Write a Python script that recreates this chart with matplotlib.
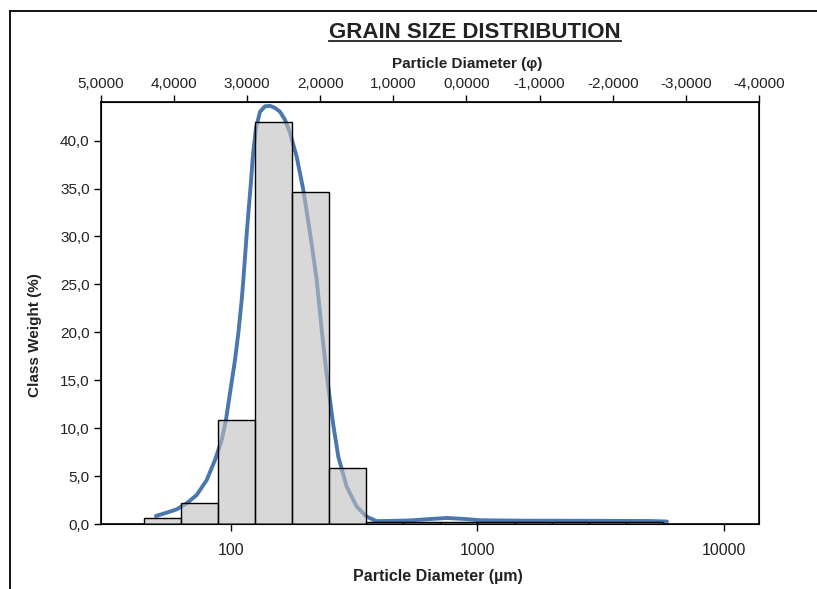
import numpy as np
import matplotlib
matplotlib.use("Agg")
import matplotlib.pyplot as plt
from matplotlib.lines import Line2D
from matplotlib.ticker import FixedLocator, FixedFormatter, NullLocator

plt.rcParams['font.family'] = ['Liberation Sans', 'DejaVu Sans']

# ---------------- data ----------------
bin_edges_um = [44.19, 62.5, 88.39, 125.0, 176.8, 250.0, 353.6, 500.0, 707.1,
                1000.0, 1414.2, 2000.0, 2828.4, 4000.0, 5656.9]
class_weight = [0.6, 2.2, 10.8, 41.9, 34.6, 5.8, 0.2, 0.2, 0.2, 0.2, 0.2, 0.2, 0.2, 0.2]

curve_um = [49.6, 54.8, 60.2, 66.1, 72.6, 79.7, 86.1, 91.7, 95.4, 99.1, 103.8, 107.1,
            110.5, 112.2, 116.1, 120.2, 122.8, 126.3, 131.1, 137.4, 143.9, 150.8,
            158.1, 165.6, 173.5, 184.7, 196.5, 209.2, 222.7, 233.3, 244.5, 252.1,
            260.0, 272.4, 294.7, 323.6, 355.2, 390.0, 441.7, 532.3, 641.9, 752.0,
            889.7, 1023.6, 1487.0, 3141.0, 5010.0, 5870.0]
curve_pct = [0.84, 1.18, 1.53, 2.16, 3.03, 4.59, 6.68, 8.77, 10.86, 13.7, 17.12, 19.94,
             23.38, 25.47, 30.69, 35.39, 38.52, 41.34, 43.01, 43.58, 43.63, 43.42,
             43.01, 42.17, 40.81, 38.31, 34.86, 30.38, 25.47, 20.25, 15.55, 12.94,
             10.33, 7.03, 3.89, 1.81, 0.76, 0.30, 0.32, 0.37, 0.52, 0.63,
             0.52, 0.39, 0.35, 0.33, 0.31, 0.26]

y_ticks = [0, 5, 10, 15, 20, 25, 30, 35, 40]
y_tick_labels = ["0,0", "5,0", "10,0", "15,0", "20,0", "25,0", "30,0", "35,0", "40,0"]
x_ticks = [100, 1000, 10000]
x_tick_labels = ["100", "1000", "10000"]
phi_ticks = [5, 4, 3, 2, 1, 0, -1, -2, -3, -4]
phi_tick_labels = ["5,0000", "4,0000", "3,0000", "2,0000", "1,0000", "0,0000",
                   "-1,0000", "-2,0000", "-3,0000", "-4,0000"]

# ---------------- figure ----------------
W, H = 817, 589
fig = plt.figure(figsize=(W / 100, H / 100), dpi=100)
fig.patch.set_facecolor("white")

left, right, top, bottom = 100.7, 759, 102.3, 524
ax = fig.add_axes([left / W, 1 - bottom / H, (right - left) / W, (bottom - top) / H])

edges = np.array(bin_edges_um)
ax.plot(curve_um, curve_pct, color="#4a78ae", lw=2.8, solid_capstyle="round",
        solid_joinstyle="round", zorder=2)
ax.bar(edges[:-1], class_weight, width=np.diff(edges), align="edge",
       color=(0.75, 0.75, 0.75, 0.6), edgecolor="black", linewidth=1.0, zorder=3)

ax.set_xscale("log")
ax.set_xlim(29.6, 13870)
ax.set_ylim(0, 44)
ax.xaxis.set_major_locator(FixedLocator(x_ticks))
ax.xaxis.set_major_formatter(FixedFormatter(x_tick_labels))
ax.xaxis.set_minor_locator(NullLocator())
ax.yaxis.set_major_locator(FixedLocator(y_ticks))
ax.yaxis.set_major_formatter(FixedFormatter(y_tick_labels))
ax.tick_params(axis="both", direction="out", length=5, width=1, color="black",
               labelsize=11, labelcolor="#222222", pad=3)
ax.tick_params(axis="x", labelsize=11.5, pad=9)
for s in ax.spines.values():
    s.set_linewidth(1.2)
    s.set_color("black")

ax2 = ax.twiny()
ax2.set_xlim(5, -4)
ax2.xaxis.set_major_locator(FixedLocator(phi_ticks))
ax2.xaxis.set_major_formatter(FixedFormatter(phi_tick_labels))
ax2.xaxis.set_minor_locator(NullLocator())
ax2.tick_params(axis="x", direction="out", length=5, width=1, labelsize=11,
                labelcolor="#222222", pad=3)

fig.text(438 / W, 1 - 576 / H, "Particle Diameter (µm)", ha="center", va="center",
         fontsize=11.5, fontweight="bold", color="#222222")
fig.text(35 / W, 1 - 335 / H, "Class Weight (%)", ha="center", va="center",
         rotation=90, fontsize=11, fontweight="bold", color="#222222")
fig.text(467 / W, 1 - 64 / H, "Particle Diameter (φ)", ha="center", va="center",
         fontsize=11, fontweight="bold", color="#222222")
title = fig.text(475 / W, 1 - 32 / H, "GRAIN SIZE DISTRIBUTION", ha="center",
                 va="center", fontsize=16, fontweight="bold", color="#222222")

# outer frame
fig.add_artist(Line2D([10 / W, 10 / W], [0, 1 - 11 / H], transform=fig.transFigure,
                      color="black", lw=1.3))
fig.add_artist(Line2D([10 / W, 1], [1 - 11 / H, 1 - 11 / H], transform=fig.transFigure,
                      color="black", lw=1.3))

# underline title
fig.canvas.draw()
bb = title.get_window_extent()
uy = (bb.y0 + 1.5) / H
fig.add_artist(Line2D([bb.x0 / W, bb.x1 / W], [uy, uy], transform=fig.transFigure,
                      color="#222222", lw=1.3))

fig.savefig("out.png", dpi=100)
